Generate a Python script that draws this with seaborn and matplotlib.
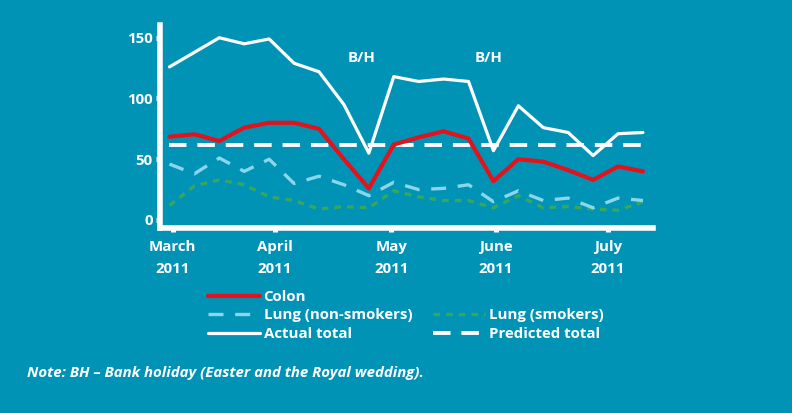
import numpy as np
import pandas as pd
import matplotlib
matplotlib.use('Agg')
import matplotlib.pyplot as plt
import seaborn as sns
from matplotlib.lines import Line2D

# weekly referrals, March - July 2011
weeks = list(range(20))
actual_total = [126, 138, 150, 145, 149, 129, 122, 95, 55, 118, 114, 116, 114, 57, 94, 76, 72, 53, 71, 72]
predicted_total = [61.5] * 20
colon = [68.5, 70.5, 65, 76, 80, 80, 75, 50, 26, 62, 68, 73, 67, 32, 50, 48, 41, 33, 44, 40]
lung_non_smokers = [46, 38, 51, 40, 50, 30, 36, 29, 20, 31, 25, 26, 29, 15, 24, 16, 18, 10, 18, 16]
lung_smokers = [12, 28, 33, 29, 19, 16, 9, 11, 10, 24, 19, 16, 16, 10, 20, 10, 11, 9, 8, 15]

month_pos = [0.13, 4.22, 8.9, 13.1, 17.6]
month_labels = ['March\n2011', 'April\n2011', 'May\n2011', 'June\n2011', 'July\n2011']
bh_weeks = [7.7, 12.8]

bg = '#0093b6'
white = '#ffffff'
red = '#e3121b'
lblue = '#8ad6ea'
green = '#35a85e'

sns.set_style('white')
plt.rcParams['font.family'] = ['Open Sans', 'DejaVu Sans']
plt.rcParams['font.weight'] = 'bold'
fs = 10.8

fig = plt.figure(figsize=(7.92, 4.13), dpi=100, facecolor=bg)
ax = fig.add_axes([0.2014, 0.448, 0.623, 0.4915])
ax.set_facecolor(bg)

sns.lineplot(x=weeks, y=lung_smokers, ax=ax, color=green, lw=2.4,
             linestyle=(0, (2, 1.8)))
sns.lineplot(x=weeks, y=lung_non_smokers, ax=ax, color=lblue, lw=2.4,
             linestyle=(0, (4.5, 3.5)))
sns.lineplot(x=weeks, y=predicted_total, ax=ax, color=white, lw=2.8,
             linestyle=(0, (4.5, 2.8)))
sns.lineplot(x=weeks, y=actual_total, ax=ax, color=white, lw=2.3)
sns.lineplot(x=weeks, y=colon, ax=ax, color=red, lw=3.0)

for xb in bh_weeks:
    ax.text(xb, 133, 'B/H', color=white, fontsize=fs, fontweight='bold',
            ha='center', va='center')

ax.set_xlim(-0.4, 19.4)
ax.set_ylim(-6.6, 160.5)
ax.set_yticks([0, 50, 100, 150])
ax.set_xticks(month_pos)
ax.set_xticklabels(month_labels, linespacing=1.72)
ax.tick_params(colors=white, labelcolor=white, labelsize=fs, width=3.6, length=3,
               direction='out', left=True, bottom=True)
ax.tick_params(axis='x', pad=5.5)
ax.tick_params(axis='y', pad=2)
for lab in ax.get_xticklabels() + ax.get_yticklabels():
    lab.set_fontweight('bold')
for s in ['top', 'right']:
    ax.spines[s].set_visible(False)
for s in ['left', 'bottom']:
    ax.spines[s].set_color(white)
    ax.spines[s].set_linewidth(4)
ax.grid(False)

handles = [
    Line2D([], [], color=red, lw=3.0),
    Line2D([], [], color=lblue, lw=2.4, linestyle=(0, (4.5, 3.5))),
    Line2D([], [], color=white, lw=2.3),
    Line2D([], [], color='none'),
    Line2D([], [], color=green, lw=2.4, linestyle=(0, (2, 1.8))),
    Line2D([], [], color=white, lw=2.8, linestyle=(0, (4.5, 2.8))),
]
labels = ['Colon', 'Lung (non-smokers)', 'Actual total', '', 'Lung (smokers)', 'Predicted total']
leg = fig.legend(handles, labels, ncol=2, loc='upper left',
                 bbox_to_anchor=(208 / 792, 1 - 290 / 413), frameon=False,
                 fontsize=fs, handlelength=3.45, handletextpad=0.25,
                 columnspacing=1.4, labelspacing=0.3, borderpad=0,
                 borderaxespad=0)
for t in leg.get_texts():
    t.set_color(white)
    t.set_fontweight('bold')

fig.text(27 / 792, 1 - 373 / 413, 'Note: BH \u2013 Bank holiday (Easter and the Royal wedding).',
         color=white, fontsize=fs, fontweight='bold', fontstyle='italic', va='center')

fig.savefig('out.png', dpi=100, facecolor=bg)
